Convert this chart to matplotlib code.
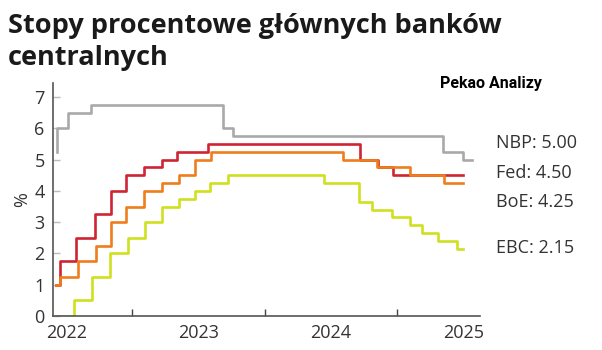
import matplotlib
matplotlib.use("Agg")
from matplotlib import pyplot as plt

# decimal-year positions of each rate change, and the rate in force after it
nbp_x = [2021.930, 2021.934, 2022.015, 2022.184, 2023.181, 2023.257, 2024.845, 2024.996, 2025.064]
nbp_y = [5.25, 6.00, 6.50, 6.75, 6.00, 5.75, 5.25, 5.00, 5.00]

fed_x = [2021.922, 2021.952, 2022.073, 2022.217, 2022.335, 2022.451, 2022.587, 2022.721,
         2022.834, 2023.068, 2024.218, 2024.354, 2024.467, 2024.996]
fed_y = [1.00, 1.75, 2.50, 3.25, 4.00, 4.50, 4.75, 5.00, 5.25, 5.50, 5.00, 4.75, 4.50, 4.50]

boe_x = [2021.922, 2021.952, 2022.086, 2022.225, 2022.335, 2022.451, 2022.587, 2022.721,
         2022.853, 2022.972, 2023.091, 2024.088, 2024.352, 2024.596, 2024.853, 2024.996]
boe_y = [1.00, 1.25, 1.75, 2.25, 3.00, 3.50, 4.00, 4.25, 4.50, 5.00, 5.25, 5.00, 4.75,
         4.50, 4.25, 4.25]

ebc_x = [2021.922, 2022.058, 2022.196, 2022.330, 2022.468, 2022.594, 2022.721, 2022.851,
         2022.972, 2023.085, 2023.219, 2023.946, 2024.213, 2024.314, 2024.465, 2024.601,
         2024.692, 2024.810, 2024.949, 2024.996]
ebc_y = [0.00, 0.50, 1.25, 2.00, 2.50, 3.00, 3.50, 3.75, 4.00, 4.25, 4.50, 4.25, 3.65,
         3.40, 3.15, 2.90, 2.65, 2.40, 2.15, 2.15]

labels = ["NBP: 5.00", "Fed: 4.50", "BoE: 4.25", "EBC: 2.15"]
label_y = [5.53, 4.57, 3.64, 2.17]
years = [2022, 2023, 2024, 2025]

plt.rcParams['font.family'] = ['Open Sans', 'DejaVu Sans']

fig = plt.figure(figsize=(6.02, 3.5), dpi=100, facecolor='w')
ax = fig.add_axes([0.088, 0.097, 0.709, 0.666])

ax.step(nbp_x, nbp_y, where='post', color='#a9a9a9', lw=1.9)
ax.step(fed_x, fed_y, where='post', color='#cf2433', lw=1.9)
ax.step(boe_x, boe_y, where='post', color='#ef7d1b', lw=1.9)
ax.step(ebc_x, ebc_y, where='post', color='#cfe01f', lw=1.9)

ax.set_xlim(2021.9, 2025.125)
ax.set_ylim(0, 7.45)

ax.set_xticks(years)
ax.set_xticklabels([str(y) for y in years])
ax.set_xticks([2022.5, 2023.5, 2024.5], minor=True)
ax.tick_params(axis='x', which='major', length=0, pad=6, labelsize=13, colors='#333333')
ax.tick_params(axis='x', which='minor', direction='in', length=5, width=1, color='#444444')
ax.set_yticks(range(8))
ax.tick_params(axis='y', direction='in', length=5, width=1, color='#bbbbbb',
               labelsize=13, labelcolor='#333333', pad=6)

for s in ['top', 'right']:
    ax.spines[s].set_visible(False)
for s in ['left', 'bottom']:
    ax.spines[s].set_color('#555555')
    ax.spines[s].set_linewidth(1.2)

ax.set_ylabel('%', fontsize=13, color='#333333', labelpad=2)

for t, y in zip(labels, label_y):
    ax.text(2025.245, y, t, fontsize=13, color='#333333', va='center', ha='left',
            clip_on=False)

fig.text(0.013, 0.906, 'Stopy procentowe głównych banków', fontsize=19.5,
         fontweight='bold', color='#1a1a1a', va='baseline', ha='left')
fig.text(0.013, 0.814, 'centralnych', fontsize=19.5,
         fontweight='bold', color='#1a1a1a', va='baseline', ha='left')
fig.text(0.731, 0.749, 'Pekao Analizy', fontsize=11.5, fontweight='bold', color='black',
         family=['Roboto', 'DejaVu Sans'], ha='left', va='baseline')

plt.savefig('out.png', dpi=100)
